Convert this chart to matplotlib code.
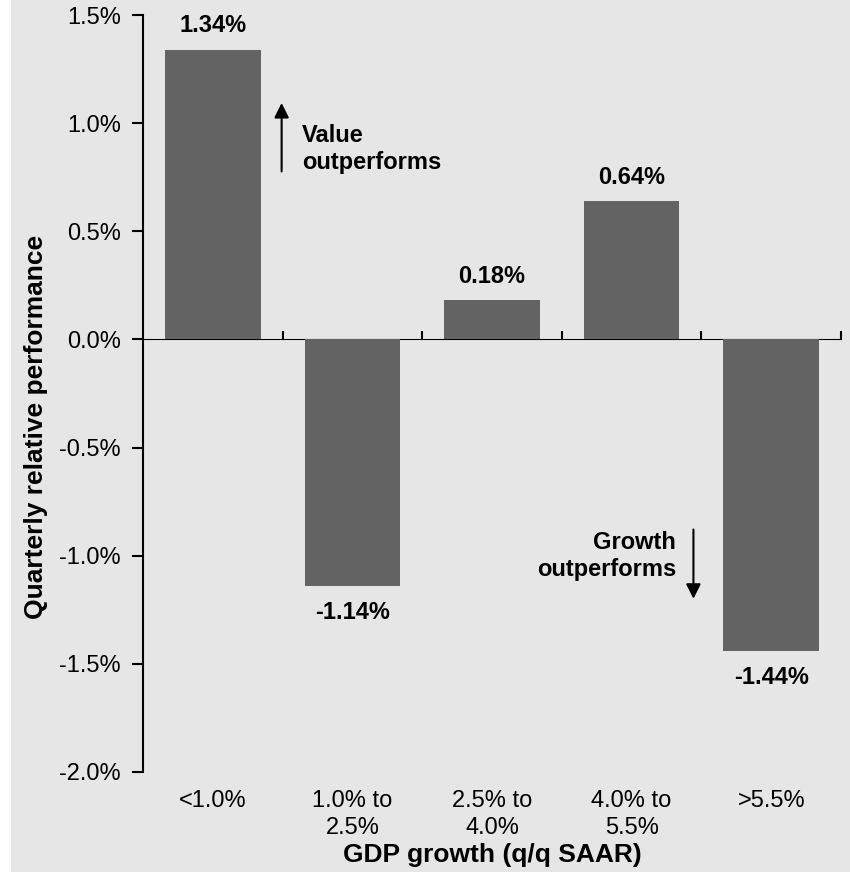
import numpy as np
import matplotlib
matplotlib.use('Agg')
import matplotlib.pyplot as plt
from matplotlib.patches import Rectangle

# data
categories = ['<1.0%', '1.0% to\n2.5%', '2.5% to\n4.0%', '4.0% to\n5.5%', '>5.5%']
values = [1.34, -1.14, 0.18, 0.64, -1.44]
yticks = [-2.0, -1.5, -1.0, -0.5, 0.0, 0.5, 1.0, 1.5]

bg = '#e6e6e6'
bar_color = '#636363'
plt.rcParams['font.family'] = ['Liberation Sans', 'DejaVu Sans']

fig = plt.figure(figsize=(8.5, 8.72), dpi=100, facecolor=bg)
fig.patches.append(Rectangle((0, 0), 11 / 850, 1, transform=fig.transFigure,
                             facecolor='white', edgecolor='none', zorder=-1))
ax = fig.add_axes([143 / 850, 1 - 772 / 872, 698 / 850, 757 / 872])
ax.set_facecolor(bg)

x = np.arange(len(categories))
ax.bar(x, values, width=0.685, color=bar_color, zorder=2)

ax.set_xlim(-0.5, len(categories) - 0.5)
ax.set_ylim(-2.0, 1.5)
ax.set_yticks(yticks)
ax.set_yticklabels([f'{v:.1f}%' for v in yticks], fontsize=17)
ax.tick_params(axis='y', direction='out', length=8, width=1.5, pad=8)

for s in ['top', 'right', 'bottom']:
    ax.spines[s].set_visible(False)
ax.spines['left'].set_linewidth(1.5)

# category labels at bottom, no ticks
ax.set_xticks(x)
ax.set_xticklabels(categories, fontsize=17, linespacing=1.3)
ax.tick_params(axis='x', length=0, pad=13)
ax.set_xlabel('GDP growth (q/q SAAR)', fontsize=19, fontweight='bold', labelpad=3)
ax.set_ylabel('Quarterly relative performance', fontsize=19, fontweight='bold')
ax.yaxis.set_label_coords(-0.136, 0.456)

# zero axis with boundary ticks
zero_pos = (0 - (-2.0)) / (1.5 - (-2.0))
sec = ax.secondary_xaxis(zero_pos)
sec.spines['bottom'].set_linewidth(1.5)
sec.set_xticks(x + 0.5)
sec.set_xticklabels([])
sec.tick_params(axis='x', direction='out', length=6, width=1.5)

# value labels
for xi, v in zip(x, values):
    off = 17 if v > 0 else -19
    ax.annotate(f'{v:.2f}%', (xi, v), xytext=(0, off), textcoords='offset points',
                ha='center', va='center', fontsize=17, fontweight='bold')

# annotations
ax.annotate('', xy=(0.493, 1.106), xytext=(0.493, 0.764),
            arrowprops=dict(arrowstyle='-|>', color='black', lw=1.5, mutation_scale=22))
ax.text(0.64, 0.88, 'Value\noutperforms', fontsize=17, fontweight='bold',
        ha='left', va='center', linespacing=1.2)
ax.annotate('', xy=(3.443, -1.212), xytext=(3.443, -0.866),
            arrowprops=dict(arrowstyle='-|>', color='black', lw=1.5, mutation_scale=22))
ax.text(3.32, -1.0, 'Growth\noutperforms', fontsize=17, fontweight='bold',
        ha='right', va='center', linespacing=1.2)

fig.savefig('out.png', dpi=100, facecolor=bg)
